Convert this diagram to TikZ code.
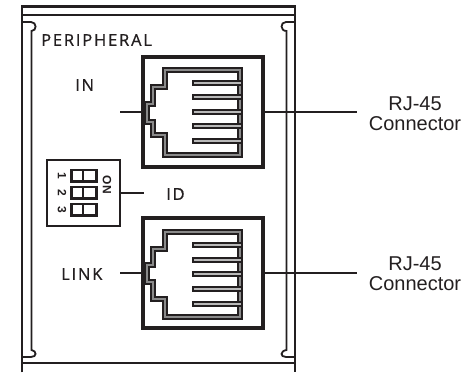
\documentclass[tikz,border=0pt]{standalone}
\usepackage{fontspec}
\setmainfont{Liberation Sans}
\newfontfamily\panelfont[LetterSpace=11,FakeBold=0.8]{Open Sans}
\definecolor{ink}{HTML}{231F20}
\definecolor{midgray}{HTML}{8A8A8A}
\tikzset{
  x=1pt,y=-1pt,
  frame/.style={draw=ink,line width=2.2pt},
  jackbox/.style={draw=ink,line width=4.6pt,fill=white,minimum width=120pt,minimum height=110pt,inner sep=0pt},
  dipbox/.style={draw=ink,line width=2pt,fill=white,minimum width=73pt,minimum height=66pt,inner sep=0pt},
  leader/.style={draw=ink,line width=2.6pt},
  panel/.style={font=\panelfont\fontsize{16.5}{17}\selectfont,text=ink,inner sep=0pt},
  conn/.style={font=\fontsize{20}{20}\selectfont,text=ink,align=center,inner sep=0pt},
  swbody/.style={draw=none,fill=ink},
  swcell/.style={draw=none,fill=white},
  swnum/.style={font=\bfseries\fontsize{12}{13}\selectfont,text=ink,rotate=-90,inner sep=0pt},
}
\newcommand{\jackshape}[6]{% y top, step1, step2, step3, step4, y bottom
  \draw[draw=ink,line width=5.4pt,line join=miter] (165,#1) -- (240,#1) -- (240,#6) -- (165,#6) -- (165,#5) -- (153,#5) -- (153,#4) -- (147,#4) -- (147,#3) -- (153,#3) -- (153,#2) -- (165,#2) -- cycle;
  \draw[draw=midgray,line width=1.2pt,line join=miter] (165,#1) -- (240,#1) -- (240,#6) -- (165,#6) -- (165,#5) -- (153,#5) -- (153,#4) -- (147,#4) -- (147,#3) -- (153,#3) -- (153,#2) -- (165,#2) -- cycle;
}
\newcommand{\jackbar}[1]{%
  \draw[draw=ink,line width=5.4pt] (192,#1) -- (241,#1);
  \draw[draw=midgray!60,line width=1.3pt] (194,#1) -- (241,#1);
}
\begin{document}
\begin{tikzpicture}
\useasboundingbox (0,0) rectangle (475,374);
% housing
\draw[frame] (22,372.5) -- (22,6.5) -- (295,6.5) -- (295,372.5);
\draw[frame] (22,15) -- (295,15);
\draw[frame] (22,363) -- (295,363);
\draw[frame,line width=1.8pt] (22,22) -- (31,22) .. controls (37,22) and (37,31) .. (31.5,31) -- (31.5,350) .. controls (37,351) and (37,357) .. (31,357) -- (22,357);
\draw[frame,line width=1.8pt] (295,22) -- (286,22) .. controls (280,22) and (280,31) .. (286.5,31) -- (286.5,350) .. controls (280,351) and (280,357) .. (286,357) -- (295,357);
% labels
\node[panel,anchor=west] (peripheral) at (41,40) {PERIPHERAL};
\node[panel,anchor=west] (inlabel) at (75,85) {IN};
\node[panel,anchor=west] (idlabel) at (166,194) {ID};
\node[panel,anchor=west] (linklabel) at (61,274) {LINK};
\node[conn] (rj1) at (415,114) {RJ-45\\Connector};
\node[conn] (rj2) at (415,274) {RJ-45\\Connector};
% jacks
\node[jackbox] (jack1) at (203,112) {};
\node[jackbox] (jack2) at (203,273) {};
\jackshape{70}{87}{104}{122}{135}{155}
\foreach \yy in {83,97,112,126,141} {\jackbar{\yy}}
\jackshape{232}{249}{265}{282}{299}{317}
\foreach \yy in {245,260,274,289,304} {\jackbar{\yy}}
% dip switch
\node[dipbox] (dip) at (83.5,193) {};
\foreach \yy/\nn in {176/1,193/2,210/3} {
  \fill[swbody] (69.5,\yy-7) rectangle (98,\yy+7);
  \fill[swcell] (73,\yy-4.5) rectangle (82,\yy+4.5);
  \fill[swcell] (83.5,\yy-4.5) rectangle (95,\yy+4.5);
  \node[swnum] at (62,\yy) {\nn};
}
\node[font=\fontsize{12}{13}\selectfont\bfseries,text=ink,rotate=-90,inner sep=0pt] (onlabel) at (107,185) {ON};
% leaders
\coordinate (inend) at (120,112);
\coordinate (linkend) at (120,273);
\coordinate (r1end) at (357,112);
\coordinate (r2end) at (357,273);
\draw[leader] (inend) -- (jack1.west);
\draw[leader] (linkend) -- (jack2.west);
\draw[leader] (dip.east) -- ++(23,0) coordinate (idend);
\draw[leader] (jack1.east) -- (r1end);
\draw[leader] (jack2.east) -- (r2end);
\end{tikzpicture}
\end{document}
